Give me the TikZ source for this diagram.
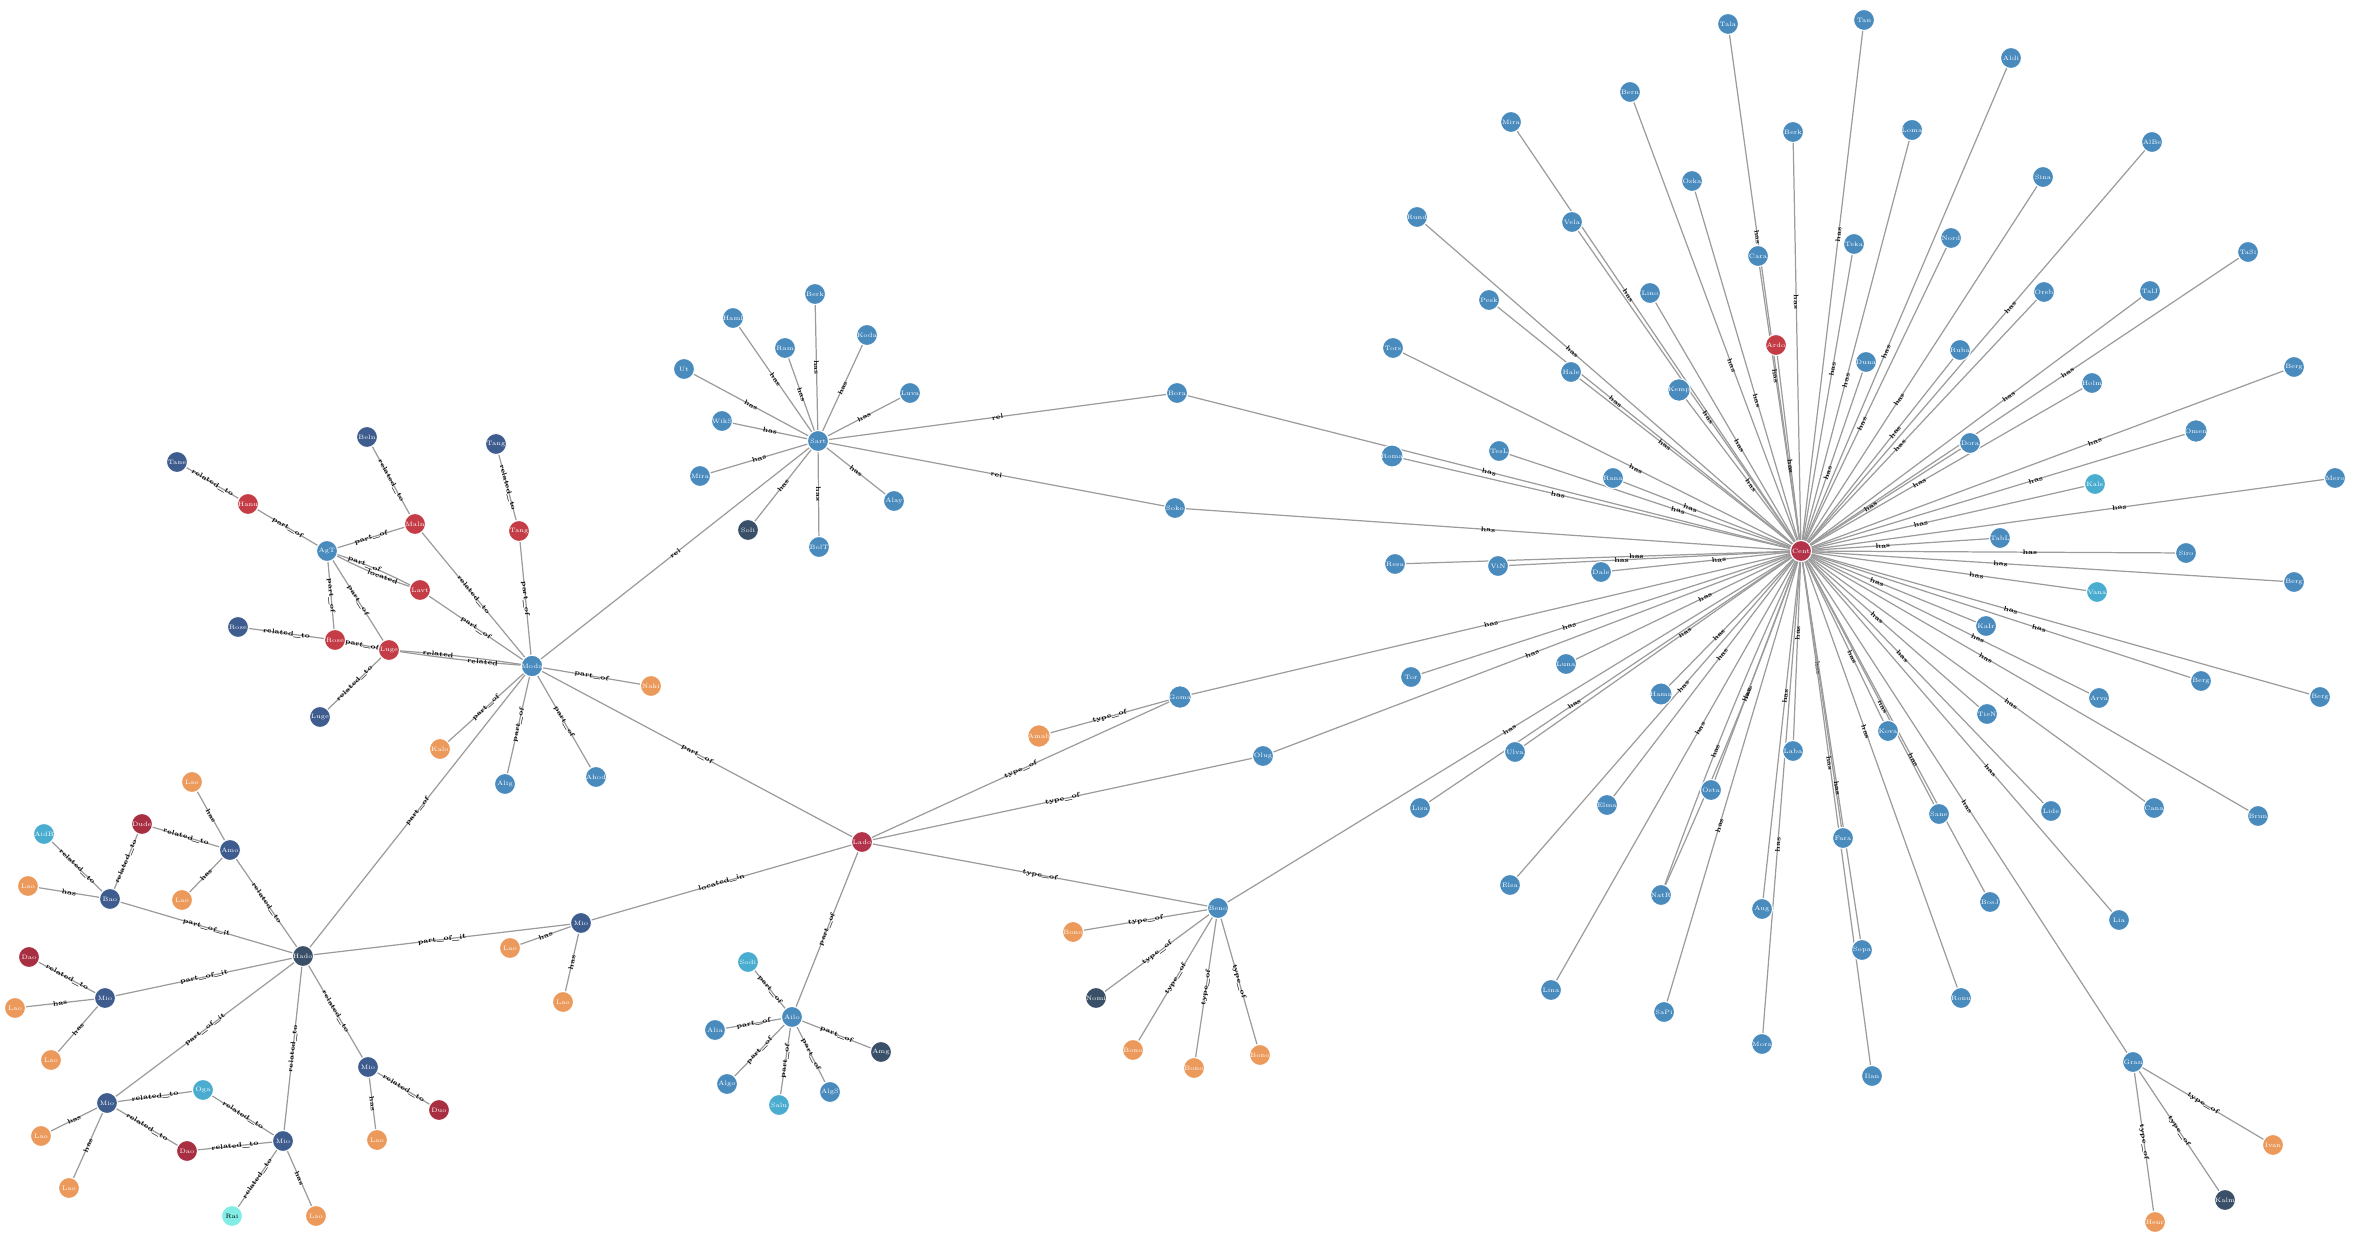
\documentclass[tikz,border=0pt]{standalone}
\usetikzlibrary{backgrounds}
\definecolor{nblue}{HTML}{4A8BBE}
\definecolor{nnavy}{HTML}{3E5C8E}
\definecolor{nslate}{HTML}{3A5068}
\definecolor{nred}{HTML}{C43C46}
\definecolor{nmaroon}{HTML}{A82E42}
\definecolor{nhub}{HTML}{B3344A}
\definecolor{norange}{HTML}{EC9A5C}
\definecolor{nteal}{HTML}{4AADCF}
\definecolor{ncyan}{HTML}{82EDE4}
\definecolor{edgec}{HTML}{9C9C9C}
\tikzset{
  nd/.style={circle,minimum size=0.21cm,inner sep=0pt,fill=nblue,draw=white,line width=0.3pt,
    text=white,font=\fontsize{1.8}{2.1}\selectfont},
  ed/.style={draw=edgec,line width=0.35pt},
  lbl/.style={sloped,inner sep=0.2pt,text=black,font=\fontsize{1.9}{2.2}\selectfont\bfseries}
}
\newcommand{\lnk}[3]{\draw[ed] (#1) -- node[lbl]{#3} (#2);}
\begin{document}
\begin{tikzpicture}[x=0.01cm,y=-0.01cm]
\useasboundingbox (0,0) rectangle (2354,1240);

% big star
\node[nd,fill=nhub] (hub) at (1801,551) {Cent};
\foreach \i/\x/\y/\c/\t in {
  1/1728/24/nblue/Tala, 2/1630/92/nblue/Bern, 3/1511/122/nblue/Mira, 4/1692/181/nblue/Oska,
  5/1417/217/nblue/Rund, 6/1572/222/nblue/Vela, 7/1758/256/nblue/Cara, 8/1650/293/nblue/Lino,
  9/1489/300/nblue/Pesk, 10/1393/348/nblue/Tors, 11/1571/372/nblue/Hale, 12/1679/390/nblue/Kemp,
  13/1864/20/nblue/Tan, 14/2011/58/nblue/Aldi, 15/1793/132/nblue/Berk, 16/1912/130/nblue/Loma,
  17/2152/142/nblue/AlBe, 18/2043/177/nblue/Sina, 19/1854/244/nblue/Teka, 20/1951/238/nblue/Nord,
  21/2248/252/nblue/TaSi, 22/2044/292/nblue/Oreb, 23/2150/291/nblue/TalJ, 24/1866/362/nblue/Duna,
  25/1960/350/nblue/Ruba, 26/2092/383/nblue/Holm, 27/2294/367/nblue/Berg, 28/1970/443/nblue/Dora,
  29/2196/431/nblue/Omen, 30/2095/484/nteal/Kale, 31/2335/478/nblue/Mero, 32/2000/538/nblue/TabL,
  33/2186/553/nblue/Siro, 34/2294/582/nblue/Berg, 35/2097/592/nteal/Vana, 36/1986/626/nblue/KaIr,
  37/2201/681/nblue/Berg, 38/2320/697/nblue/Berg, 39/2099/698/nblue/Arva, 40/1987/714/nblue/TieN,
  41/1888/731/nblue/Kova, 42/1793/751/nblue/Laba, 43/1939/814/nblue/Sane, 44/2051/811/nblue/Lide,
  45/2154/808/nblue/Cana, 46/2258/816/nblue/Brun, 47/1392/456/nblue/Roma, 48/1499/451/nblue/TesL,
  49/1613/478/nblue/Rana, 50/1395/564/nblue/Resa, 51/1498/566/nblue/ViN, 52/1601/572/nblue/Dale,
  53/1411/677/nblue/Tor, 54/1566/664/nblue/Luna, 55/1661/694/nblue/Hama, 56/1515/752/nblue/Ulva,
  57/1420/808/nblue/Lisa, 58/1607/805/nblue/Elma, 59/1711/790/nblue/Osta, 60/1510/885/nblue/Elsa,
  61/1661/895/nblue/NatR, 62/1551/990/nblue/Lina, 63/1664/1012/nblue/SaPi, 64/1762/909/nblue/Aug,
  65/1762/1044/nblue/Mora, 66/1843/838/nblue/Fara, 67/1862/950/nblue/Sopa, 68/1872/1076/nblue/Ilan,
  69/1990/902/nblue/BosJ, 70/1961/998/nblue/Ronu, 71/2119/920/nblue/Lia, 72/1776/345/nred/Ardo}
  \node[nd,fill=\c] (s\i) at (\x,\y) {\t};

% cluster at the lower right of the star
\node[nd] (gb) at (2133,1062) {Gran};
\node[nd,fill=norange] (g1) at (2273,1145) {Ivan};
\node[nd,fill=nslate] (g2) at (2225,1200) {Kalm};
\node[nd,fill=norange] (g3) at (2155,1222) {Henr};

% upper cluster
\node[nd] (uc) at (818,441) {Sart};
\foreach \i/\x/\y/\c/\t in {
  1/815/294/nblue/Berk, 2/733/318/nblue/Haml, 3/867/335/nblue/Koda, 4/785/348/nblue/Ram,
  5/684/369/nblue/Ut, 6/910/393/nblue/Luva, 7/722/421/nblue/WikS, 8/700/476/nblue/Mira,
  9/748/530/nslate/Soli, 10/819/547/nblue/BolT, 11/894/501/nblue/Alay}
  \node[nd,fill=\c] (u\i) at (\x,\y) {\t};
\node[nd] (ua) at (1177,393) {Bora};
\node[nd] (ub) at (1175,508) {Soko};

% left cluster
\node[nd] (lc) at (532,666) {Moda};
\node[nd] (lh) at (327,551) {AgT};
\foreach \i/\x/\y/\c/\t in {
  1/177/462/nnavy/Tane, 2/248/504/nred/Hanu, 3/367/437/nnavy/Beln, 4/415/524/nred/Maln,
  5/496/444/nnavy/Tang, 6/519/531/nred/Tang, 7/420/590/nred/Lavt, 8/238/627/nnavy/Rose,
  9/335/640/nred/Rose, 10/389/650/nred/Luge, 11/320/717/nnavy/Luge, 12/440/749/norange/Kalo,
  13/505/784/nblue/Alig, 14/596/777/nblue/Ahod, 15/651/686/norange/Naki}
  \node[nd,fill=\c] (l\i) at (\x,\y) {\t};

% bottom left cluster
\node[nd,fill=nslate] (bl) at (303,956) {Hado};
\foreach \i/\x/\y/\c/\t in {
  1/44/834/nteal/AidB, 2/142/824/nmaroon/Dude, 3/230/850/nnavy/Amo, 4/192/782/norange/Lao,
  5/28/886/norange/Lao, 6/110/899/nnavy/Bao, 7/182/900/norange/Lao, 8/29/957/nmaroon/Dao,
  9/105/998/nnavy/Mio, 10/15/1008/norange/Lao, 11/51/1060/norange/Lao, 12/368/1067/nnavy/Mio,
  13/203/1090/nteal/Oga, 14/107/1103/nnavy/Mio, 15/439/1110/nmaroon/Duo, 16/41/1136/norange/Lao,
  17/283/1141/nnavy/Mio, 18/187/1151/nmaroon/Dao, 19/377/1140/norange/Lao, 20/69/1188/norange/Lao,
  22/316/1216/norange/Lao, 23/581/923/nnavy/Mio, 24/510/948/norange/Lao, 25/563/1002/norange/Lao}
  \node[nd,fill=\c] (b\i) at (\x,\y) {\t};
\node[nd,fill=ncyan,text=black] (b21) at (232,1216) {Rai};

% middle part
\node[nd,fill=nhub] (rc) at (862,842) {Lado};
\node[nd] (bc) at (792,1017) {Ailo};
\foreach \i/\x/\y/\c/\t in {
  1/748/962/nteal/Sodi, 2/715/1030/nblue/Alia, 3/881/1052/nslate/Amg, 4/727/1084/nblue/Algo,
  5/830/1092/nblue/AlgS, 6/779/1105/nteal/Salu}
  \node[nd,fill=\c] (c\i) at (\x,\y) {\t};
\node[nd] (r1) at (1180,697) {Goma};
\node[nd] (r2) at (1263,756) {Olug};
\node[nd,fill=norange] (r3) at (1039,736) {Amab};
\node[nd] (br) at (1218,908) {Beno};
\foreach \i/\x/\y/\c/\t in {
  1/1073/932/norange/Bono, 2/1096/998/nslate/Nomi, 3/1133/1050/norange/Bono,
  4/1194/1068/norange/Bono, 5/1260/1055/norange/Bono}
  \node[nd,fill=\c] (e\i) at (\x,\y) {\t};

\begin{scope}[on background layer]
% star links
\foreach \i [evaluate=\i as \p using {0.4+0.2*mod(\i,2)}] in {1,...,60,62,63,...,72}
  \draw[ed] (hub) -- node[lbl,pos=\p]{has} (s\i);
\draw[ed] (hub) to[bend left=2] node[lbl,pos=0.4]{has} (s61);
\draw[ed] (hub) to[bend right=2] node[lbl,pos=0.6]{has} (s61);
\foreach \n in {ua,ub,r1,r2,br,gb}
  \draw[ed] (hub) -- node[lbl]{has} (\n);
\lnk{gb}{g1}{type\_of}
\lnk{gb}{g2}{type\_of}
\lnk{gb}{g3}{type\_of}
% upper cluster links
\foreach \i in {1,...,11}
  \draw[ed] (uc) -- node[lbl]{has} (u\i);
\lnk{uc}{ua}{rel}
\lnk{uc}{ub}{rel}
\lnk{uc}{lc}{rel}
% left cluster links
\lnk{l1}{l2}{related\_to}
\lnk{l2}{lh}{part\_of}
\lnk{l3}{l4}{related\_to}
\lnk{l4}{lh}{part\_of}
\lnk{l4}{lc}{related\_to}
\lnk{l5}{l6}{related\_to}
\lnk{l6}{lc}{part\_of}
\draw[ed] (lh) to[bend left=4] node[lbl,pos=0.35]{part\_of} (l7);
\draw[ed] (lh) to[bend right=4] node[lbl,pos=0.65]{located} (l7);
\lnk{l7}{lc}{part\_of}
\lnk{lh}{l9}{part\_of}
\lnk{lh}{l10}{part\_of}
\lnk{l8}{l9}{related\_to}
\lnk{l9}{l10}{part\_of}
\draw[ed] (l10) to[bend left=2] node[lbl,pos=0.3]{related} (lc);
\draw[ed] (l10) to[bend right=2] node[lbl,pos=0.7]{related} (lc);
\lnk{l10}{l11}{related\_to}
\foreach \i in {12,...,15}
  \draw[ed] (lc) -- node[lbl]{part\_of} (l\i);
\lnk{lc}{rc}{part\_of}
\lnk{lc}{bl}{part\_of}
% bottom left links
\lnk{b1}{b6}{related\_to}
\lnk{b2}{b6}{related\_to}
\lnk{b5}{b6}{has}
\lnk{b6}{bl}{part\_of\_it}
\lnk{b2}{b3}{related\_to}
\lnk{b4}{b3}{has}
\lnk{b7}{b3}{has}
\lnk{b3}{bl}{related\_to}
\lnk{b8}{b9}{related\_to}
\lnk{b10}{b9}{has}
\lnk{b11}{b9}{has}
\lnk{b9}{bl}{part\_of\_it}
\lnk{bl}{b14}{part\_of\_it}
\lnk{bl}{b17}{related\_to}
\lnk{bl}{b12}{related\_to}
\lnk{bl}{b23}{part\_of\_it}
\lnk{b12}{b19}{has}
\lnk{b12}{b15}{related\_to}
\lnk{b14}{b16}{has}
\lnk{b14}{b20}{has}
\lnk{b14}{b13}{related\_to}
\lnk{b14}{b18}{related\_to}
\lnk{b13}{b17}{related\_to}
\lnk{b18}{b17}{related\_to}
\lnk{b17}{b21}{related\_to}
\lnk{b17}{b22}{has}
\lnk{b23}{b24}{has}
\lnk{b23}{b25}{has}
\lnk{b23}{rc}{located\_in}
% middle links
\lnk{rc}{bc}{part\_of}
\lnk{rc}{br}{type\_of}
\lnk{rc}{r1}{type\_of}
\lnk{rc}{r2}{type\_of}
\lnk{r3}{r1}{type\_of}
\foreach \i in {1,...,6}
  \draw[ed] (bc) -- node[lbl]{part\_of} (c\i);
\foreach \i in {1,...,5}
  \draw[ed] (br) -- node[lbl]{type\_of} (e\i);
\end{scope}
\end{tikzpicture}
\end{document}
